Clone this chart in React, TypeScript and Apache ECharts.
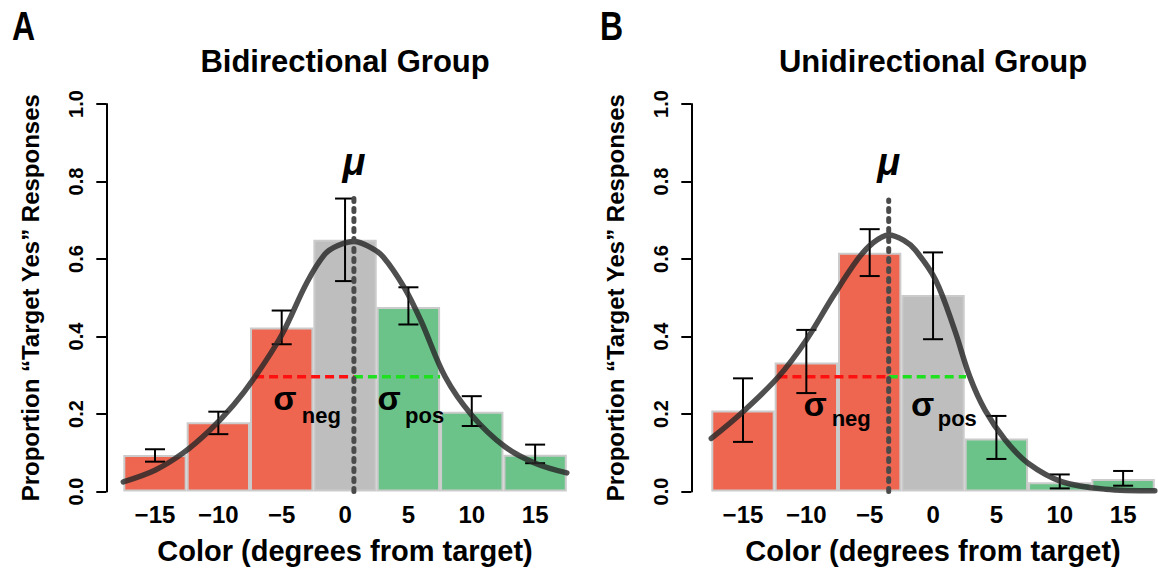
import React, { useEffect, useRef } from 'react';
import * as echarts from 'echarts';

// ---------- data ----------
const tickLabels = ['\u221215', '\u221210', '\u22125', '0', '5', '10', '15'];
const binColors = ['#EF6650', '#EF6650', '#EF6650', '#BEBEBE', '#6CC38A', '#6CC38A', '#6CC38A'];
const panelLetters = ['A', 'B'];
const panelTitles = ['Bidirectional Group', 'Unidirectional Group'];
const xTitle = 'Color (degrees from target)';
const yTitle = 'Proportion \u201CTarget Yes\u201D Responses';

// Panel A (bidirectional)
const barsA = [0.094, 0.179, 0.423, 0.650, 0.476, 0.206, 0.095];
const errLowA = [0.077, 0.148, 0.380, 0.543, 0.431, 0.169, 0.073];
const errHighA = [0.109, 0.206, 0.467, 0.756, 0.527, 0.246, 0.121];
const curveA: [number, number][] = [
  [-17.5, 0.025], [-15, 0.055], [-12.8, 0.099], [-10.65, 0.159], [-8.8, 0.223],
  [-7.1, 0.296], [-5.0, 0.404], [-3.0, 0.54], [-1.6, 0.612], [-0.6, 0.634], [0.7, 0.645],
  [2.0, 0.630], [3.0, 0.606], [4.7, 0.525], [6.0, 0.44], [7.9, 0.296], [10.0, 0.197],
  [12.6, 0.116], [15, 0.073], [17.5, 0.048],
];
const muA = 0.7;
const muTopA = 0.756;
const sigmaLevelA = 0.296;
const sigmaNegStartA = -7.1;
const sigmaPosEndA = 7.5;

// Panel B (unidirectional)
const barsB = [0.209, 0.333, 0.616, 0.507, 0.137, 0.024, 0.032];
const errLowB = [0.128, 0.254, 0.556, 0.393, 0.084, 0.008, 0.015];
const errHighB = [0.292, 0.417, 0.677, 0.617, 0.195, 0.044, 0.053];
const curveB: [number, number][] = [
  [-17.5, 0.137], [-15, 0.206], [-12.2, 0.296], [-10, 0.391], [-7.9, 0.503],
  [-6.0, 0.597], [-4.8, 0.640], [-3.5, 0.662], [-2.3, 0.648], [-1.4, 0.623], [0.2, 0.546],
  [1.7, 0.417], [2.9, 0.296], [4.1, 0.210], [5.7, 0.133], [7.5, 0.073],
  [10.2, 0.025], [13.6, 0.006], [17.5, 0.002],
];
const muB = -3.5;
const muTopB = 0.752;
const sigmaLevelB = 0.296;
const sigmaNegStartB = -12.2;
const sigmaPosEndB = 2.6;

// annotation anchors (data coordinates)
const muLabelY = 0.851;
const sigmaLabelA: [number, number][] = [[-4.74, 0.241], [3.47, 0.241]];
const subLabelA: [number, number][] = [[-3.42, 0.197], [4.74, 0.197]];
const sigmaLabelB: [number, number][] = [[-9.31, 0.225], [-0.83, 0.225]];
const subLabelB: [number, number][] = [[-8.0, 0.188], [0.37, 0.188]];
const subTexts = ['neg', 'pos'];

// ---------- layout / style ----------
const FONT = "'Liberation Sans', Arial, Helvetica, sans-serif";
const gridLeft = [123.3, 711.3];
const gridWidth = 443.5;
const gridTop = 104;
const gridHeight = 387.5;
const axisOffset = [17, 20];

function errorRender(params: any, api: any) {
  const x = api.value(0);
  const lo = api.coord([x, api.value(1)]);
  const hi = api.coord([x, api.value(2)]);
  const hw = 10;
  const st = { stroke: '#000', lineWidth: 2 };
  return {
    type: 'group',
    children: [
      { type: 'line', shape: { x1: lo[0], y1: lo[1], x2: hi[0], y2: hi[1] }, style: st },
      { type: 'line', shape: { x1: lo[0] - hw, y1: lo[1], x2: lo[0] + hw, y2: lo[1] }, style: st },
      { type: 'line', shape: { x1: hi[0] - hw, y1: hi[1], x2: hi[0] + hw, y2: hi[1] }, style: st },
    ],
  };
}

function panelSeries(p: number, bars: number[], lo: number[], hi: number[], curve: [number, number][],
  mu: number, muTop: number, level: number, negStart: number, posEnd: number) {
  const catX = p * 2;
  const valX = p * 2 + 1;
  return [
    {
      type: 'bar', xAxisIndex: catX, yAxisIndex: p, z: 2,
      barCategoryGap: 0, barGap: 0,
      data: bars.map((v, i) => ({ value: v, itemStyle: { color: binColors[i] } })),
      itemStyle: { borderColor: '#CBCBCB', borderWidth: 2 },
      silent: true,
    },
    {
      type: 'line', xAxisIndex: valX, yAxisIndex: p, z: 3, symbol: 'none',
      data: [[negStart, level], [mu, level]],
      lineStyle: { color: '#FF1010', width: 3.5, type: [9, 5] },
    },
    {
      type: 'line', xAxisIndex: valX, yAxisIndex: p, z: 3, symbol: 'none',
      data: [[mu, level], [posEnd, level]],
      lineStyle: { color: '#1EE01E', width: 3.5, type: [9, 5] },
    },
    {
      type: 'custom', xAxisIndex: catX, yAxisIndex: p, z: 4,
      renderItem: errorRender,
      encode: { x: 0, y: [1, 2] },
      data: bars.map((_, i) => [i, lo[i], hi[i]]),
    },
    {
      type: 'line', xAxisIndex: valX, yAxisIndex: p, z: 5, symbol: 'none',
      smooth: 0.35,
      data: curve,
      lineStyle: { color: 'rgba(40,40,40,0.82)', width: 5.5, cap: 'round' },
    },
    {
      type: 'line', xAxisIndex: valX, yAxisIndex: p, z: 6, symbol: 'none',
      data: [[mu, 0], [mu, muTop]],
      lineStyle: { color: '#4A4A4A', width: 5, type: [3, 7], cap: 'round' },
    },
  ];
}

function buildOption() {
  const grids = [0, 1].map((p) => ({
    left: gridLeft[p], top: gridTop, width: gridWidth, height: gridHeight,
    containLabel: false, outerBoundsMode: 'none',
  }));
  const xAxes: any[] = [];
  const yAxes: any[] = [];
  [0, 1].forEach((p) => {
    xAxes.push({
      type: 'category', gridIndex: p, data: tickLabels, boundaryGap: true,
      axisLine: { show: false, onZero: false }, axisTick: { show: false }, splitLine: { show: false },
      axisLabel: { fontSize: 24, fontWeight: 'bold', color: '#000', margin: 11, fontFamily: FONT },
      name: xTitle, nameLocation: 'middle', nameGap: 45,
      nameTextStyle: { fontSize: 29, fontWeight: 'bold', color: '#000', fontFamily: FONT },
    });
    xAxes.push({
      type: 'value', gridIndex: p, min: -17.5, max: 17.5, show: false, position: 'bottom',
      axisLine: { onZero: false },
    });
    yAxes.push({
      type: 'value', gridIndex: p, min: 0, max: 1, interval: 0.2, offset: axisOffset[p],
      position: 'left',
      axisLine: { show: true, onZero: false, lineStyle: { color: '#000', width: 2 } },
      axisTick: { show: true, length: 10, lineStyle: { color: '#000', width: 2 } },
      splitLine: { show: false },
      axisLabel: {
        rotate: 90, margin: 20, fontSize: 20, fontWeight: 'bold', color: '#000', fontFamily: FONT,
        formatter: (v: number) => v.toFixed(1),
      },
      name: yTitle, nameLocation: 'middle', nameGap: 64,
      nameTextStyle: { fontSize: 24, fontWeight: 'bold', color: '#000', fontFamily: FONT },
    });
  });
  return {
    animation: false,
    backgroundColor: '#fff',
    grid: grids,
    xAxis: xAxes,
    yAxis: yAxes,
    series: [
      ...panelSeries(0, barsA, errLowA, errHighA, curveA, muA, muTopA, sigmaLevelA, sigmaNegStartA, sigmaPosEndA),
      ...panelSeries(1, barsB, errLowB, errHighB, curveB, muB, muTopB, sigmaLevelB, sigmaNegStartB, sigmaPosEndB),
    ],
  };
}

function txt(x: number, y: number, text: string, size: number, opts: any = {}) {
  return {
    type: 'text', x, y, z: 100,
    scaleX: opts.scaleX || 1,
    style: {
      text, fill: '#000', fontSize: size, fontWeight: 'bold', fontFamily: FONT,
      fontStyle: opts.italic ? 'italic' : 'normal',
      align: opts.align || 'center', verticalAlign: 'middle',
      textAlign: opts.align || 'center', textVerticalAlign: 'middle',
    },
  };
}

function buildGraphics(chart: any) {
  const els: any[] = [];
  const letterX = [12, 600];
  const mus = [muA, muB];
  const sig = [sigmaLabelA, sigmaLabelB];
  const sub = [subLabelA, subLabelB];
  [0, 1].forEach((p) => {
    const finder = { xAxisIndex: p * 2 + 1, yAxisIndex: p };
    const conv = (pt: [number, number]) => chart.convertToPixel(finder, pt) as number[];
    els.push(txt(letterX[p], 26, panelLetters[p], 40, { align: 'left', scaleX: 0.8 }));
    const c = conv([0, 0]);
    els.push(txt(c[0], 61, panelTitles[p], 31));
    const m = conv([mus[p], muLabelY]);
    els.push(txt(m[0], m[1], '\u03BC', 38, { italic: true }));
    for (let k = 0; k < 2; k++) {
      const s = conv(sig[p][k]);
      els.push(txt(s[0], s[1], '\u03C3', 34));
      const t = conv(sub[p][k]);
      els.push(txt(t[0], t[1], subTexts[k], 22, { align: 'left' }));
    }
  });
  return els;
}

export default function App() {
  const ref = useRef<HTMLDivElement>(null);
  useEffect(() => {
    if (!ref.current) return;
    const chart = echarts.init(ref.current, undefined, { renderer: 'svg' });
    chart.setOption(buildOption() as any);
    chart.setOption({ graphic: buildGraphics(chart) } as any);
    return () => chart.dispose();
  }, []);
  return (
    <div
      ref={ref}
      style={{ position: 'fixed', left: 0, top: 0, width: 1158, height: 570, background: '#fff' }}
    />
  );
}
